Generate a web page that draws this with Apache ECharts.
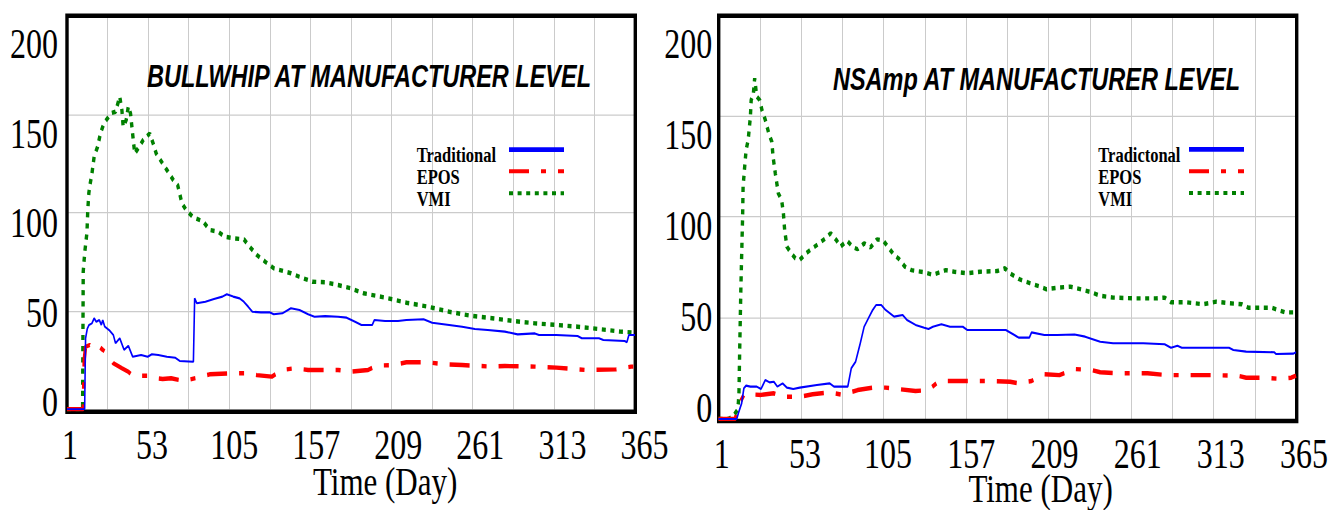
<!DOCTYPE html>
<html><head><meta charset="utf-8">
<script src="https://cdn.jsdelivr.net/npm/echarts@6/dist/echarts.min.js"></script>
<style>
html,body{margin:0;padding:0;background:#fff;overflow:hidden;}
#wrap{width:1342px;height:510px;overflow:hidden;}
#chart{width:1342px;height:392px;transform:scaleY(1.301020408);transform-origin:0 0;}
</style></head><body><div id="wrap"><div id="chart"></div></div>
<script>
// ---------- data ----------
const xTickLabels = [1, 53, 105, 157, 209, 261, 313, 365];
const yTickLabels = [0, 50, 100, 150, 200];
const leftTitle = 'BULLWHIP AT MANUFACTURER LEVEL';
const rightTitle = 'NSAmp AT MANUFACTURER LEVEL';
const xAxisName = 'Time (Day)';
const leftNames = ['Traditional', 'EPOS', 'VMI'];
const rightNames = ['Tradictonal', 'EPOS', 'VMI'];

const leftTraditional = [[1,0],[12.3,0],[12.9,36.1],[14.0,41],[15.1,42.9],[17.0,43.7],[18.4,46.3],[19.8,44.5],[21.7,45.4],[23.0,42.9],[23.9,45.4],[25.2,42],[28.0,40.3],[30.7,37.8],[32.1,33.6],[34.8,36.1],[37.6,30.2],[40.3,32.3],[43.1,26.7],[48.5,27.6],[52.7,26.7],[55.4,28],[59.5,27.6],[65.0,26.7],[70.5,26.2],[73.2,24.6],[82.0,24.2],[82.8,56.4],[84.2,53.9],[89.7,54.7],[95.2,56.1],[100.6,57.3],[103.4,58.5],[107.5,57.3],[111.6,56.4],[114.3,54.7],[117.1,52.2],[119.8,49.6],[125.3,49.3],[130.8,49.3],[133.5,48.3],[139.0,48.8],[144.5,51.4],[150.0,50.5],[155.5,48.3],[159.6,47.1],[166.4,47.4],[174.7,47.1],[180.2,46.6],[185.6,44.5],[189.7,42.9],[196.6,42.9],[198.0,45.4],[204.8,44.9],[213.1,44.9],[218.5,45.4],[229.5,45.8],[235.0,44],[245.9,42.9],[254.2,42],[262.4,40.8],[270.6,40.3],[281.6,39.5],[289.8,38.1],[300.8,38.6],[303.5,37.8],[314.5,37.8],[328.2,37.3],[330.9,36.1],[341.9,36.1],[344.7,35.2],[358.4,34.7],[359.8,34.1],[361.1,37.8],[365,37.8]];
const leftEPOS = [[1,0],[11.4,0],[12.0,25],[12.9,31.8],[15.6,32.7],[18.4,31],[21.1,32.3],[23.9,30.2],[26.1,29],[30.7,23.4],[36.2,20.9],[40.3,19.1],[43.1,17.1],[52.7,17.1],[55.4,16.1],[62.3,15.4],[67.7,15.8],[75.9,14.4],[86.9,16.6],[92.4,17.8],[106.1,18.3],[117.1,18.3],[122.6,17.4],[132.2,16.6],[139.0,20],[147.2,20.9],[155.5,20],[174.7,20],[182.9,19.1],[193.9,20],[199.4,22.2],[210.3,22.5],[218.5,23.9],[232.3,23.9],[243.2,22.9],[254.2,22.5],[273.4,21.7],[281.6,22],[300.8,21.7],[314.5,21.2],[333.7,20],[352.9,20.3],[362.5,21.7],[365,21.7]];
const leftVMI = [[1,0],[11,0],[11.4,70],[12.4,80],[13.8,90],[14.3,101],[15.0,110],[15.7,114],[17.0,120],[18.4,128.5],[20.6,133.5],[22.5,140.5],[24.7,145.5],[29.4,150.6],[32.1,151.3],[34.8,159],[36.2,152],[37.0,143.7],[38.9,147],[40.3,154],[41.7,150.5],[43.0,140.5],[44.4,130],[47.2,133.5],[49.9,137],[54.0,140.3],[56.2,135.2],[58.2,130],[62.3,125],[65.0,121.7],[69.1,116.6],[71.9,114],[73.2,109.8],[74.6,104.8],[77.3,101.4],[81.5,97.9],[88.3,95.4],[92.5,91.2],[97.9,90.3],[102.0,87.8],[107.5,87],[114.4,86.4],[117.1,83.6],[122.6,78.5],[128.1,75],[133.6,71.7],[144.5,69.2],[149.9,67.4],[158.2,64.9],[166.5,64.6],[174.7,63.2],[182.9,61.5],[191.1,59],[204.9,56.8],[218.6,54.2],[232.3,52.2],[246,49.6],[259.7,47.6],[273.4,46.3],[287.2,44.9],[300.9,43.7],[314.6,42.9],[328.3,42],[342,40.8],[355.7,39.5],[365,39]];

const rightTraditional = [[1,0],[12.5,0],[13.5,2.8],[15.6,7.8],[17.0,15.2],[18.4,16.5],[21.1,16],[25.1,16],[27.8,14.8],[30.5,19.3],[33.2,18.1],[35.9,18.4],[38.1,16],[41.4,17.6],[44.1,15.5],[48.1,14.8],[52.2,15.5],[63.0,16.8],[71.1,17.6],[73.8,16],[82.5,16],[84.7,25.1],[87.4,28.3],[90.1,36.6],[92.8,45.6],[95.5,49.8],[98.2,53.9],[100.3,56.3],[103.6,56.3],[106.3,53.9],[111.7,50.6],[117.1,51.4],[119.8,48.9],[125.2,46.5],[130.7,45.1],[133.4,44.5],[136.1,45.6],[141.5,46.8],[146.9,45.6],[155.0,45.6],[157.7,44],[168.5,44],[182.1,44],[187.5,41.5],[190.2,40.2],[196.9,40.2],[198.3,42.8],[206.4,41.5],[214.5,41.5],[225.4,41.8],[232.1,40.7],[241.6,38.2],[249.7,37.4],[268.7,37.4],[282.2,36.9],[286.2,35.2],[290.3,36.2],[293.0,35.2],[322.8,35.2],[325.5,34.1],[333.6,33.3],[351.2,33],[352.5,32.1],[363.4,32.3],[365,33]];
const rightEPOS = [[1,0],[11.6,0],[12.5,3.6],[14.3,7.8],[17.0,11.9],[21.1,12.2],[27.8,11.9],[35.9,12.7],[41.4,11],[52.2,11],[60.3,12.2],[71.1,13.2],[79.2,11.9],[88.7,14.3],[98.2,15.5],[106.3,15.5],[114.4,14.8],[125.2,13.8],[133.4,14.3],[140.1,18.8],[149.6,18.8],[171.2,18.8],[184.8,18.4],[190.2,17.6],[198.3,18.8],[206.4,22.1],[215.9,21.7],[225.4,24.7],[236.2,24.2],[241.6,23.1],[252.4,22.6],[271.4,22.6],[283.5,21.7],[295.7,21.7],[311.9,21.7],[328.2,21.4],[333.6,20.4],[344.4,20.4],[355.3,19.8],[362.0,20.4],[365,21.4]];
const rightVMI = [[1,0],[7,0],[9.3,0.8],[10.8,2],[12.9,4.4],[13.5,7.8],[13.9,12.8],[14.3,31.6],[15.1,64.6],[15.6,81],[16.2,100],[16.5,114.8],[17.5,124.7],[18.4,132.9],[19.7,137.9],[21.1,149.4],[21.6,157.6],[23.0,161],[23.8,168.4],[25.1,159.3],[27.0,157.6],[28.4,152.7],[30.5,147.8],[32.7,141.2],[34.6,137],[35.4,129.6],[36.8,121.4],[38.7,111.5],[40.8,108.2],[41.9,101.7],[42.7,93.4],[44.1,85.2],[46.8,81.9],[49.5,79.4],[52.2,78.6],[56.2,81.9],[60.3,84.4],[64.4,86.8],[68.4,89.3],[71.7,91.8],[75.2,88.5],[77.9,85.2],[82.0,88.1],[86.0,84.8],[88.7,83.9],[92.8,86.8],[96.8,84.8],[100.9,88.8],[104.9,88.1],[107.7,85.2],[111.7,81],[114.4,79.4],[118.5,75.3],[122.5,73.6],[130.7,72.5],[136.1,71.2],[144.2,73.6],[149.6,72.8],[157.7,72],[165.8,72.8],[176.7,73.1],[181.5,74.5],[184.8,72],[190.2,69.2],[195.6,67.6],[203.7,65.4],[207.8,64.1],[214.5,64.9],[222.7,65.4],[230.8,63.8],[236.2,62.6],[241.6,60.9],[249.7,60],[263.2,59.6],[276.8,59.6],[282.2,60],[286.2,57.7],[295.7,57.7],[306.5,56.7],[314.7,58],[322.8,57.2],[330.9,56.7],[335.0,55],[349.8,55],[358.0,52.7],[365,52.7]];

// ---------- layout (page pixels, y pre-divided by the vertical stretch) ----------
const S = 510 / 392;
const Y = v => v / S;
const FONT_SERIF = "'Liberation Serif','Times New Roman',serif";
const FONT_SANS = "'Liberation Sans',Arial,sans-serif";
const LABEL_FS = 32;
const LABEL_LH = 20;
const NAME_LH = 22;
const xMin = xTickLabels[0], xMax = xTickLabels[xTickLabels.length - 1];
const xLabelStep = xTickLabels[1] - xTickLabels[0];
const yMin = yTickLabels[0], yMax = yTickLabels[yTickLabels.length - 1];
const yStep = yTickLabels[1] - yTickLabels[0];

const panels = [
  { names: leftNames, data: [leftTraditional, leftEPOS, leftVMI],
    frame: {l: 67, t: 15.7, r: 635.3, b: 411.7},
    plot: {l: 67, t: 16, r: 635, b: 409.3},
    lab: {l: 70, t: 44, r: 644.5, b: 402, yMargin: 12, xCenter: 445},
    title: {text: leftTitle, x: 147, cy: 76.2},
    axisName: {x: 313, cy: 482},
    legend: {textX: 416.7, iconX: 509, cys: [147.7, 169.3, 191.2]} },
  { names: rightNames, data: [rightTraditional, rightEPOS, rightVMI],
    frame: {l: 718.7, t: 15.7, r: 1296.7, b: 421},
    plot: {l: 718.5, t: 14.3, r: 1296, b: 419},
    lab: {l: 721.7, t: 43.8, r: 1304, b: 408.3, yMargin: 9.5, xCenter: 454},
    title: {text: rightTitle, x: 833, cy: 79.5},
    axisName: {x: 968.4, cy: 489},
    legend: {textX: 1098.3, iconX: 1189, cys: [147.5, 169.3, 191.1]} }
];

const seriesStyles = [
  {color: '#0000ff', width: 1.6, type: 'solid', legendWidth: 3.6, z: 5},
  {color: '#ff0000', width: 3.4, type: [20, 12, 5, 12], legendWidth: 3.1, z: 4},
  {color: '#008000', width: 3.4, type: [4, 4.6], legendWidth: 3.1, z: 3}
];

const grid = [], xAxis = [], yAxis = [], series = [], legend = [], title = [];
const gridLine = {color: '#cbcbcb', width: 1};

panels.forEach(function (p) {
  const gData = grid.length;
  grid.push({left: p.plot.l, top: Y(p.plot.t), width: p.plot.r - p.plot.l, height: Y(p.plot.b - p.plot.t),
             show: false, containLabel: false, outerBoundsMode: 'none', z: 0});
  xAxis.push({type: 'value', gridIndex: gData, min: xMin, max: xMax, interval: xLabelStep / 2,
    axisLine: {show: false}, axisTick: {show: false}, axisLabel: {show: false},
    splitLine: {show: true, showMinLine: false, showMaxLine: false, lineStyle: gridLine}});
  yAxis.push({type: 'value', gridIndex: gData, min: yMin, max: yMax, interval: yStep,
    axisLine: {show: false}, axisTick: {show: false}, axisLabel: {show: false},
    splitLine: {show: true, showMinLine: false, showMaxLine: false, lineStyle: gridLine}});

  const gFrame = grid.length;
  grid.push({left: p.frame.l, top: Y(p.frame.t), width: p.frame.r - p.frame.l, height: Y(p.frame.b - p.frame.t),
             show: true, borderColor: '#000', borderWidth: 3.4, backgroundColor: 'transparent',
             containLabel: false, outerBoundsMode: 'none', z: 1});
  xAxis.push({type: 'value', gridIndex: gFrame, show: false, min: 0, max: 1});
  yAxis.push({type: 'value', gridIndex: gFrame, show: false, min: 0, max: 1});

  const gLab = grid.length;
  grid.push({left: p.lab.l, top: Y(p.lab.t), width: p.lab.r - p.lab.l, height: Y(p.lab.b - p.lab.t),
             show: false, containLabel: false, outerBoundsMode: 'none'});
  xAxis.push({type: 'value', gridIndex: gLab, min: xMin, max: xMax, interval: xLabelStep,
    axisLine: {show: false}, axisTick: {show: false}, splitLine: {show: false},
    axisLabel: {margin: Y(p.lab.xCenter) - Y(p.lab.b) - LABEL_LH / 2, fontSize: LABEL_FS, lineHeight: LABEL_LH,
                fontFamily: FONT_SERIF, color: '#000'}});
  yAxis.push({type: 'value', gridIndex: gLab, min: yMin, max: yMax, interval: yStep,
    axisLine: {show: false}, axisTick: {show: false}, splitLine: {show: false},
    axisLabel: {margin: p.lab.yMargin, fontSize: LABEL_FS, lineHeight: LABEL_LH, fontFamily: FONT_SERIF, color: '#000'}});

  // series: draw VMI first, blue on top
  [2, 1, 0].forEach(function (i) {
    const st = seriesStyles[i];
    series.push({type: 'line', name: p.names[i], xAxisIndex: gData, yAxisIndex: gData,
      data: p.data[i], symbol: 'none', showSymbol: false, silent: true, z: st.z,
      lineStyle: {color: st.color, width: st.width, type: st.type, cap: 'butt'},
      itemStyle: {color: st.color}});
  });

  // legends (one per item so icons line up and texts stay left-aligned)
  p.names.forEach(function (n, i) {
    const st = seriesStyles[i];
    legend.push({show: true, selectedMode: false, orient: 'vertical', padding: 0,
      left: p.legend.textX, top: Y(p.legend.cys[i]) - 11, align: 'right',
      itemWidth: 55, itemHeight: 14, data: [n],
      formatter: function (name) { return '{t|' + name + '}'; },
      itemStyle: {opacity: 0, borderWidth: 0},
      lineStyle: {width: st.legendWidth, color: st.color, type: st.type, cap: 'butt'},
      textStyle: {rich: {t: {width: p.legend.iconX - 5 - p.legend.textX, align: 'left',
        fontFamily: FONT_SERIF, fontWeight: 'bold', fontSize: 16.5, lineHeight: 14,
        padding: [8, 0, 0, 0], color: '#000'}}}});
  });

  title.push({text: p.title.text, left: p.title.x, top: Y(p.title.cy) - 12, padding: 0,
    textStyle: {fontFamily: FONT_SANS, fontStyle: 'italic', fontWeight: 'bold', fontSize: 23.5, lineHeight: 24, color: '#000'}});
  title.push({text: xAxisName, left: p.axisName.x, top: Y(p.axisName.cy) - NAME_LH / 2, padding: 0,
    textStyle: {fontFamily: FONT_SERIF, fontWeight: 'normal', fontSize: 31, lineHeight: NAME_LH, color: '#000'}});
});

const chart = echarts.init(document.getElementById('chart'), null, {renderer: 'svg'});
chart.setOption({
  animation: false,
  backgroundColor: '#ffffff',
  title: title,
  legend: legend,
  grid: grid,
  xAxis: xAxis,
  yAxis: yAxis,
  series: series
});
</script></body></html>
